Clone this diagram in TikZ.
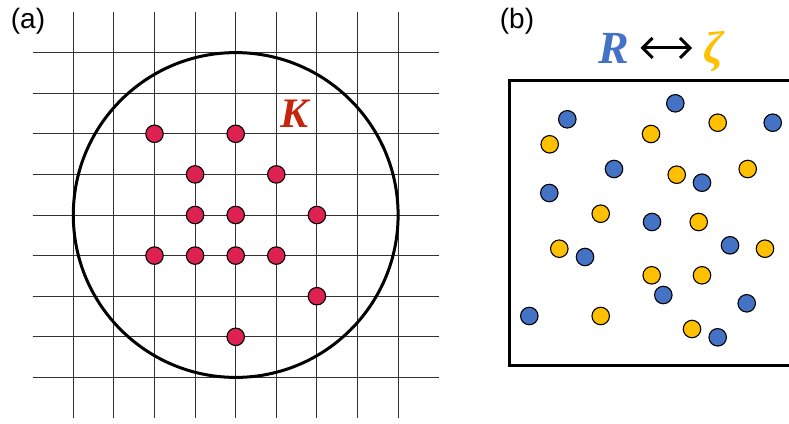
\documentclass[tikz,border=0pt]{standalone}
\usepackage{fontspec}
\setmainfont{Liberation Serif}
\newfontfamily\panelfont{Liberation Sans}
\usepackage{tikz}
\usetikzlibrary{arrows.meta}
\definecolor{latred}{HTML}{DD2150}
\definecolor{kred}{HTML}{C3260C}
\definecolor{rblue}{HTML}{4472C4}
\definecolor{zgold}{HTML}{FFC000}

\begin{document}
\begin{tikzpicture}[
    x=1pt, y=-1pt,
    gridline/.style={black!80, line width=0.9pt},
    site/.style={circle, draw=black, line width=1.1pt, fill=#1, minimum size=17.5pt, inner sep=0pt},
    panel/.style={font=\panelfont\fontsize{28}{32}\selectfont, inner sep=0pt},
    sym/.style={font=\fontsize{46}{50}\selectfont\bfseries\itshape, text=#1, inner sep=0pt, anchor=base},
    biarrow/.style={{Straight Barb[length=10pt,width=20pt]}-{Straight Barb[length=10pt,width=20pt]}, line width=3pt},
]
\useasboundingbox (0,0) rectangle (789,423);

% (a) lattice with cutoff circle
\node[panel] (la) at (28,21) {(a)};
\begin{scope}[xshift=235.7pt, yshift=-215pt, x=40.6pt, y=40.6pt]
  \foreach \i in {-4,...,4} {
    \draw[gridline] (\i,-5) -- (\i,5);
    \draw[gridline] (-5,\i) -- (5,\i);
  }
  \draw[line width=3pt] (0,0) circle (4);
  \foreach \p [count=\n] in {(-2,2),(0,2),(-1,1),(1,1),(-1,0),(0,0),(2,0),(-2,-1),(-1,-1),(0,-1),(1,-1),(2,-2),(0,-3)}
    \node[site=latred] (k\n) at \p {};
\end{scope}
\node[font=\fontsize{42}{46}\selectfont\bfseries\itshape, text=kred, inner sep=0pt] (klab) at (295,114) {K};

% (b) random positions
\node[panel] (lb) at (517,21) {(b)};
\node[sym=rblue] (rlab) at (614,63) {R};
\node[sym=zgold] (zlab) at (713.5,63) {ζ};
\draw[biarrow] ([xshift=11pt]rlab.east) -- ([xshift=-11pt]zlab.west |- rlab.east);
\draw[line width=3pt] (789,80) -- (509.3,80) -- (509.3,365.7) -- (789,365.7);

\foreach \p [count=\n] in {(567.3,119.3),(675.3,103.3),(772.7,122.7),(614,169),(702,182.7),(549.3,193),(652,222),(730,245.3),(585,257),(663.3,295),(746.7,303.3),(529.3,316),(717.7,337.3)}
  \node[site=rblue] (b\n) at \p {};
\foreach \p [count=\n] in {(549.7,144.3),(651,134),(717.7,122.7),(676.7,174.7),(747.7,169),(600.7,213.7),(698.7,222),(559.3,248.7),(765,248.7),(651.7,275.3),(702,275.3),(600.7,316),(692,329)}
  \node[site=zgold] (y\n) at \p {};

\end{tikzpicture}
\end{document}
